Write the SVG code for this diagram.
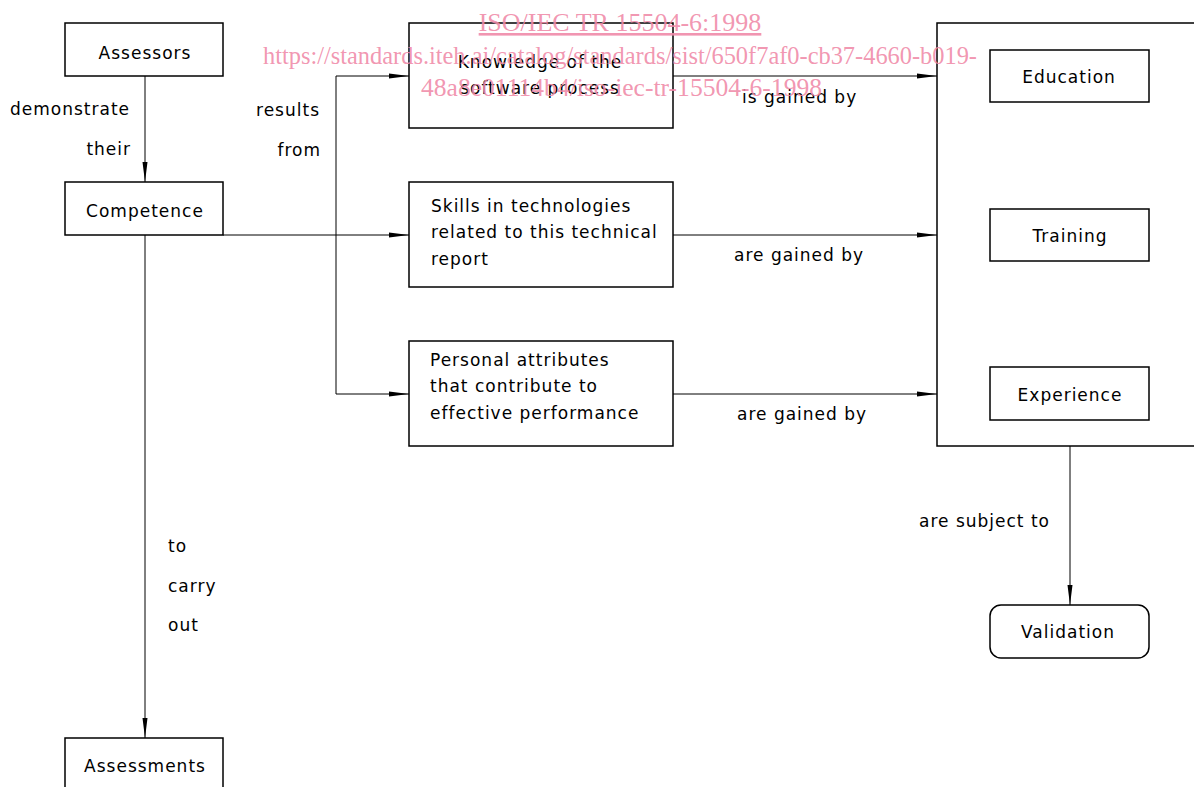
<svg xmlns="http://www.w3.org/2000/svg" width="1194" height="787" viewBox="0 0 1194 787">
<defs>
<marker id="ah" viewBox="0 0 20 8" refX="20" refY="4" markerWidth="20" markerHeight="8" markerUnits="userSpaceOnUse" orient="auto">
<path d="M0,1.5 L20,4 L0,6.5 Z" fill="#000"/>
</marker>
<style>
.box{fill:#fff;stroke:#000;stroke-width:1.5}
.ln{fill:none;stroke:#000;stroke-width:1}
.t{font-family:"DejaVu Sans","Liberation Sans",sans-serif;font-size:17px;fill:#000;letter-spacing:1px}
.c{text-anchor:middle}
.r{text-anchor:end}
.wm{font-family:"Liberation Serif",serif;font-size:26px;fill:#f08aa8;fill-opacity:0.9}
</style>
</defs>
<rect width="1194" height="787" fill="#fff"/>
<g id="connectors">
<path class="ln" d="M145,76 V182" marker-end="url(#ah)"/>
<path class="ln" d="M145,235 V738" marker-end="url(#ah)"/>
<path class="ln" d="M223,235 H409" marker-end="url(#ah)"/>
<path class="ln" d="M336,394 V76 H409" marker-end="url(#ah)"/>
<path class="ln" d="M336,394 H409" marker-end="url(#ah)"/>
<path class="ln" d="M673,76 H937" marker-end="url(#ah)"/>
<path class="ln" d="M673,235 H937" marker-end="url(#ah)"/>
<path class="ln" d="M673,394 H937" marker-end="url(#ah)"/>
<path class="ln" d="M1070,446 V605" marker-end="url(#ah)"/>
<text class="t" x="10" y="115">demonstrate</text>
<text class="t r" x="131" y="155">their</text>
<text class="t r" x="320" y="116">results</text>
<text class="t r" x="321" y="156">from</text>
<text class="t" x="168" y="552">to</text>
<text class="t" x="168" y="592">carry</text>
<text class="t" x="168" y="631">out</text>
<text class="t" x="742" y="103">is gained by</text>
<text class="t" x="734" y="261">are gained by</text>
<text class="t" x="737" y="420">are gained by</text>
<text class="t" x="919" y="527">are subject to</text>
</g>
<g id="assessors"><rect class="box" x="65" y="23" width="158" height="53"/><text class="t c" x="145" y="59">Assessors</text></g>
<g id="competence"><rect class="box" x="65" y="182" width="158" height="53"/><text class="t c" x="145" y="217">Competence</text></g>
<g id="assessments"><rect class="box" x="65" y="738" width="158" height="60"/><text class="t c" x="145" y="772">Assessments</text></g>
<g id="knowledge"><rect class="box" x="409" y="23" width="264" height="105"/><text class="t c" x="540" y="68">Knowledge of the</text><text class="t c" x="540" y="94">software process</text></g>
<g id="skills"><rect class="box" x="409" y="182" width="264" height="105"/><text class="t" x="431" y="212">Skills in technologies</text><text class="t" x="431" y="238">related to this technical</text><text class="t" x="431" y="265">report</text></g>
<g id="personal"><rect class="box" x="409" y="341" width="264" height="105"/><text class="t" x="430" y="366">Personal attributes</text><text class="t" x="430" y="392">that contribute to</text><text class="t" x="430" y="419">effective performance</text></g>
<g id="sources"><rect class="box" x="937" y="23" width="270" height="423"/></g>
<g id="education"><rect class="box" x="990" y="50" width="159" height="52"/><text class="t c" x="1069" y="83">Education</text></g>
<g id="training"><rect class="box" x="990" y="209" width="159" height="52"/><text class="t c" x="1070" y="242">Training</text></g>
<g id="experience"><rect class="box" x="990" y="367" width="159" height="53"/><text class="t c" x="1070" y="401">Experience</text></g>
<g id="validation"><rect class="box" x="990" y="605" width="159" height="53" rx="11"/><text class="t c" x="1068" y="638">Validation</text></g>
<g id="watermark">
<text class="wm c" x="620" y="31" text-decoration="underline">ISO/IEC TR 15504-6:1998</text>
<text class="wm" x="263" y="64" textLength="714" lengthAdjust="spacingAndGlyphs">https://standards.iteh.ai/catalog/standards/sist/650f7af0-cb37-4660-b019-</text>
<text class="wm" x="421" y="96" textLength="401" lengthAdjust="spacingAndGlyphs">48a8e01114b4/iso-iec-tr-15504-6-1998</text>
</g>
</svg>
